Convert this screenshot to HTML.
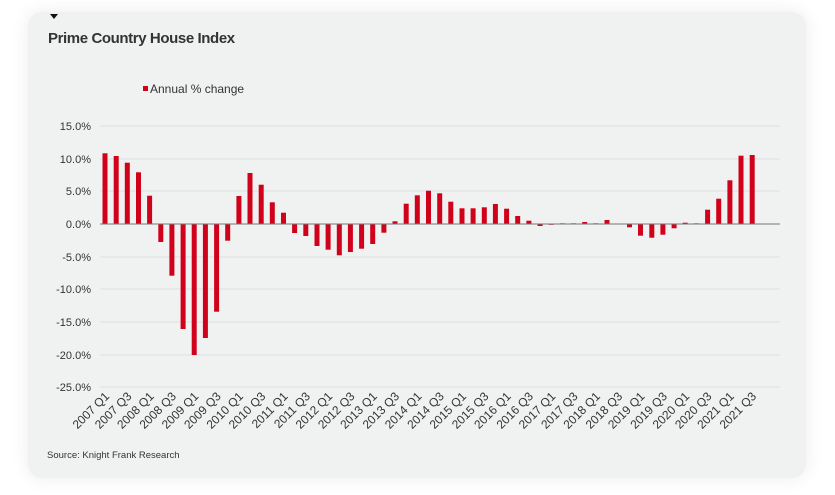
<!DOCTYPE html>
<html><head><meta charset="utf-8"><style>
html,body{margin:0;padding:0;background:#fff;width:835px;height:495px;overflow:hidden}
.card{position:absolute;left:28px;top:12px;width:778px;height:466px;background:#f0f2f2;border-radius:14px;box-shadow:0 0 18px rgba(0,0,0,0.08)}
svg{position:absolute;left:0;top:0}
text{font-family:"Liberation Sans",sans-serif;fill:#333}
</style></head><body>
<div class="card"></div>
<svg width="835" height="495" viewBox="0 0 835 495">
<polygon points="50,14 58,14 54,19" fill="#111"/>
<text x="48" y="43" font-size="15" font-weight="bold" fill="#222" letter-spacing="-0.4">Prime Country House Index</text>
<rect x="143" y="86" width="5" height="5" fill="#d0021b"/>
<text x="150" y="93" font-size="12" fill="#444">Annual % change</text>
<g stroke="#dcdfe0" stroke-width="1">
<line x1="100" x2="780" y1="126" y2="126"/><line x1="100" x2="780" y1="159" y2="159"/><line x1="100" x2="780" y1="191" y2="191"/>
<line x1="100" x2="780" y1="257" y2="257"/><line x1="100" x2="780" y1="289" y2="289"/><line x1="100" x2="780" y1="322" y2="322"/>
<line x1="100" x2="780" y1="355" y2="355"/><line x1="100" x2="780" y1="387" y2="387"/>
</g>
<g font-size="11" text-anchor="end" fill="#333">
<text x="91" y="130">15.0%</text><text x="91" y="163">10.0%</text><text x="91" y="195">5.0%</text><text x="91" y="228">0.0%</text>
<text x="91" y="261">-5.0%</text><text x="91" y="293">-10.0%</text><text x="91" y="326">-15.0%</text><text x="91" y="359">-20.0%</text><text x="91" y="391">-25.0%</text>
</g>
<g fill="#d0021b">
<rect x="102.5" y="153.3" width="5" height="70.7"/>
<rect x="113.7" y="156" width="5" height="68"/>
<rect x="124.8" y="162.7" width="5" height="61.3"/>
<rect x="136" y="172.3" width="5" height="51.7"/>
<rect x="147.1" y="195.7" width="5" height="28.3"/>
<rect x="158.3" y="224" width="5" height="18"/>
<rect x="169.4" y="224" width="5" height="51.7"/>
<rect x="180.6" y="224" width="5" height="105"/>
<rect x="191.7" y="224" width="5" height="131"/>
<rect x="202.9" y="224" width="5" height="114"/>
<rect x="214.1" y="224" width="5" height="87.7"/>
<rect x="225.2" y="224" width="5" height="16.7"/>
<rect x="236.4" y="196" width="5" height="28"/>
<rect x="247.5" y="173" width="5" height="51"/>
<rect x="258.7" y="184.7" width="5" height="39.3"/>
<rect x="269.8" y="202.3" width="5" height="21.7"/>
<rect x="281" y="212.7" width="5" height="11.3"/>
<rect x="292.1" y="224" width="5" height="9"/>
<rect x="303.3" y="224" width="5" height="12"/>
<rect x="314.5" y="224" width="5" height="22"/>
<rect x="325.6" y="224" width="5" height="25.7"/>
<rect x="336.8" y="224" width="5" height="31.3"/>
<rect x="347.9" y="224" width="5" height="28"/>
<rect x="359.1" y="224" width="5" height="24.7"/>
<rect x="370.2" y="224" width="5" height="20"/>
<rect x="381.4" y="224" width="5" height="8.7"/>
<rect x="392.5" y="221.3" width="5" height="2.7"/>
<rect x="403.7" y="203.7" width="5" height="20.3"/>
<rect x="414.8" y="195.3" width="5" height="28.7"/>
<rect x="426" y="190.7" width="5" height="33.3"/>
<rect x="437.2" y="193.3" width="5" height="30.7"/>
<rect x="448.3" y="201.7" width="5" height="22.3"/>
<rect x="459.5" y="208.3" width="5" height="15.7"/>
<rect x="470.6" y="208.3" width="5" height="15.7"/>
<rect x="481.8" y="207.3" width="5" height="16.7"/>
<rect x="492.9" y="204" width="5" height="20"/>
<rect x="504.1" y="208.7" width="5" height="15.3"/>
<rect x="515.2" y="216" width="5" height="8"/>
<rect x="526.4" y="220.7" width="5" height="3.3"/>
<rect x="537.6" y="224" width="5" height="2"/>
<rect x="548.7" y="224" width="5" height="0.8"/>
<rect x="559.9" y="223.3" width="5" height="0.7"/>
<rect x="571" y="223.3" width="5" height="0.7"/>
<rect x="582.2" y="222" width="5" height="2"/>
<rect x="593.3" y="223.3" width="5" height="0.7"/>
<rect x="604.5" y="220" width="5" height="4"/>
<rect x="627" y="224" width="5" height="3.3"/>
<rect x="638" y="224" width="5" height="11.7"/>
<rect x="649.3" y="224" width="5" height="13.7"/>
<rect x="660.4" y="224" width="5" height="10.7"/>
<rect x="671.6" y="224" width="5" height="4.3"/>
<rect x="682.7" y="222.7" width="5" height="1.3"/>
<rect x="693.9" y="223.3" width="5" height="0.7"/>
<rect x="705.1" y="209.7" width="5" height="14.3"/>
<rect x="716.2" y="198.7" width="5" height="25.3"/>
<rect x="727.4" y="180.3" width="5" height="43.7"/>
<rect x="738.5" y="155.7" width="5" height="68.3"/>
<rect x="749.7" y="155" width="5" height="69"/>
</g>
<line x1="100" x2="780" y1="224" y2="224" stroke="#777" stroke-width="1"/>
<g font-size="12" text-anchor="end" fill="#333">
<text transform="translate(110,397) rotate(-45)">2007 Q1</text>
<text transform="translate(132.3,397) rotate(-45)">2007 Q3</text>
<text transform="translate(154.6,397) rotate(-45)">2008 Q1</text>
<text transform="translate(176.9,397) rotate(-45)">2008 Q3</text>
<text transform="translate(199.2,397) rotate(-45)">2009 Q1</text>
<text transform="translate(221.6,397) rotate(-45)">2009 Q3</text>
<text transform="translate(243.9,397) rotate(-45)">2010 Q1</text>
<text transform="translate(266.2,397) rotate(-45)">2010 Q3</text>
<text transform="translate(288.5,397) rotate(-45)">2011 Q1</text>
<text transform="translate(310.8,397) rotate(-45)">2011 Q3</text>
<text transform="translate(333.1,397) rotate(-45)">2012 Q1</text>
<text transform="translate(355.4,397) rotate(-45)">2012 Q3</text>
<text transform="translate(377.7,397) rotate(-45)">2013 Q1</text>
<text transform="translate(400,397) rotate(-45)">2013 Q3</text>
<text transform="translate(422.3,397) rotate(-45)">2014 Q1</text>
<text transform="translate(444.7,397) rotate(-45)">2014 Q3</text>
<text transform="translate(467,397) rotate(-45)">2015 Q1</text>
<text transform="translate(489.3,397) rotate(-45)">2015 Q3</text>
<text transform="translate(511.6,397) rotate(-45)">2016 Q1</text>
<text transform="translate(533.9,397) rotate(-45)">2016 Q3</text>
<text transform="translate(556.2,397) rotate(-45)">2017 Q1</text>
<text transform="translate(578.5,397) rotate(-45)">2017 Q3</text>
<text transform="translate(600.8,397) rotate(-45)">2018 Q1</text>
<text transform="translate(623.1,397) rotate(-45)">2018 Q3</text>
<text transform="translate(645.4,397) rotate(-45)">2019 Q1</text>
<text transform="translate(667.8,397) rotate(-45)">2019 Q3</text>
<text transform="translate(690.1,397) rotate(-45)">2020 Q1</text>
<text transform="translate(712.4,397) rotate(-45)">2020 Q3</text>
<text transform="translate(734.7,397) rotate(-45)">2021 Q1</text>
<text transform="translate(757,397) rotate(-45)">2021 Q3</text>
</g>
<text x="47" y="458" font-size="9.5" fill="#333">Source: Knight Frank Research</text>
</svg>
</body></html>
